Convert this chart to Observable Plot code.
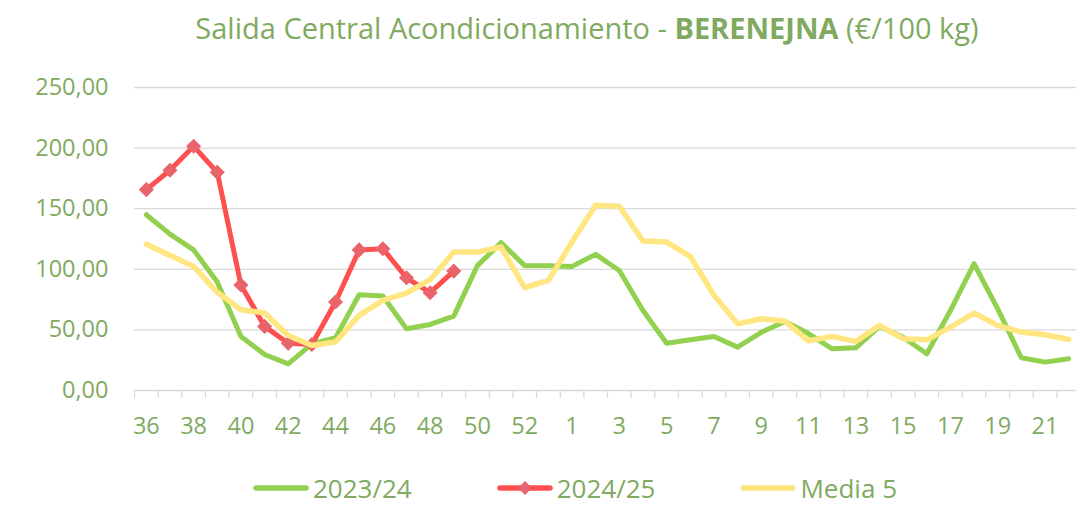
<!DOCTYPE html>
<html><head><meta charset="utf-8">
<script src="https://cdn.jsdelivr.net/npm/d3@7"></script>
<script src="https://cdn.jsdelivr.net/npm/@observablehq/plot@0.6"></script>
<style>
html,body{margin:0;padding:0;background:#fff;}
body{width:1076px;height:512px;overflow:hidden;font-family:"Open Sans",sans-serif;color:#7FAA5F;position:relative;}
#title{position:absolute;left:0;top:0;width:1174px;height:60px;text-align:center;font-size:29px;line-height:56px;white-space:nowrap;}
#title b{font-weight:700;}
#chart{position:absolute;left:0;top:60px;width:1076px;}
#legend{position:absolute;left:0;top:460px;height:56px;display:flex;align-items:center;padding-left:253px;font-size:26px;}
.item{display:flex;align-items:center;margin-right:85px;}
.item svg{margin-right:4px;}
</style></head><body>
<div id="title">Salida Central Acondicionamiento - <b>BERENEJNA</b> (€/100 kg)</div>
<div id="chart"></div>
<div id="legend"></div>
<script>
const weeks = ["36","37","38","39","40","41","42","43","44","45","46","47","48","49","50","51","52","53",
  "1","2","3","4","5","6","7","8","9","10","11","12","13","14","15","16","17","18","19","20","21","22"];
const xLabels = weeks.filter((d,i)=>i%2===0);
const yTicks = [0,50,100,150,200,250];
const seriesNames = ["2023/24","2024/25","Media 5"];
const s2324 = [145,129,116,89.5,44.6,29.7,22,38.5,43.5,79,78,51,54.5,61.4,103,122,103,103,102.4,112.3,99,66,39,41.8,44.6,35.8,48,57,47,34.4,35.2,52.9,44,30.3,66,104.6,67.4,27,23.4,26.2];
const s2425 = [165.7,181.7,201.5,180,87,52.9,39,38,73,116,117,93,80.7,98.5];
const media5 = [120.6,111.5,102.4,81,66.6,63.9,45.4,37.2,40,62,74.3,80.4,91.4,114.2,114.2,118.4,84.8,90.9,122.5,152.8,152,123.3,122.5,110.7,78.5,55,59.2,57.2,41,44.6,40.5,53.7,42.7,41.8,52.3,63.9,53.7,48.2,46,42.1];

const colors = {"2023/24":"#92D050","2024/25":"#FF5050","Media 5":"#FFE680"};
const markerColor = "#E8646A";

const green = s2324.map((v,i)=>({week:weeks[i], value:v}));
const red = s2425.map((v,i)=>({week:weeks[i], value:v}));
const yellow = media5.map((v,i)=>({week:weeks[i], value:v}));

const fmt = d => d3.format(".2f")(d).replace(".", ",");
const step = (1080-134)/weeks.length;

const chart = Plot.plot({
  width:1076, height:400,
  marginTop:27, marginBottom:70, marginLeft:134, marginRight:0,
  style:{fontFamily:"Open Sans", fontSize:"23.5px", color:"#7FAA5F", background:"transparent"},
  x:{type:"point", domain:weeks, range:[134+step/2, 1080-step/2], padding:0, round:false, label:null},
  y:{domain:[0,250], range:[330,27], label:null},
  marks:[
    Plot.gridY(yTicks, {stroke:"#d9d9d9", strokeOpacity:1, strokeWidth:1.3}),
    Plot.ruleX(weeks, {x:d=>d, y1:0, y2:-6.6, dx:-step/2, stroke:"#d9d9d9", strokeWidth:1.3}),
    Plot.axisY({ticks:yTicks, tickSize:0, tickPadding:26, tickFormat:fmt, fill:"#7FAA5F", label:null}),
    Plot.axisX({ticks:xLabels, tickSize:0, tickPadding:27, fill:"#7FAA5F", label:null}),
    Plot.line(green, {x:"week", y:"value", stroke:colors["2023/24"], strokeWidth:5, strokeLinejoin:"round", strokeLinecap:"round"}),
    Plot.line(red, {x:"week", y:"value", stroke:colors["2024/25"], strokeWidth:5, strokeLinejoin:"round", strokeLinecap:"round"}),
    Plot.dot(red, {x:"week", y:"value", symbol:"diamond2", r:6.8, fill:markerColor, stroke:"none"}),
    Plot.line(yellow, {x:"week", y:"value", stroke:colors["Media 5"], strokeWidth:5.5, strokeLinejoin:"round", strokeLinecap:"round"})
  ]
});
document.getElementById("chart").appendChild(chart);

const legend = document.getElementById("legend");
seriesNames.forEach(name=>{
  const item = document.createElement("div");
  item.className = "item";
  const marker = name === "2024/25" ? `<path d="M28,20 L35,27 L28,34 L21,27 Z" fill="${markerColor}"/>` : "";
  item.innerHTML = `<svg width="56" height="54" viewBox="0 0 56 54"><line x1="3" y1="27" x2="53" y2="27" stroke="${colors[name]}" stroke-width="5.5" stroke-linecap="round"/>${marker}</svg><span>${name}</span>`;
  legend.appendChild(item);
});
</script>
</body></html>
